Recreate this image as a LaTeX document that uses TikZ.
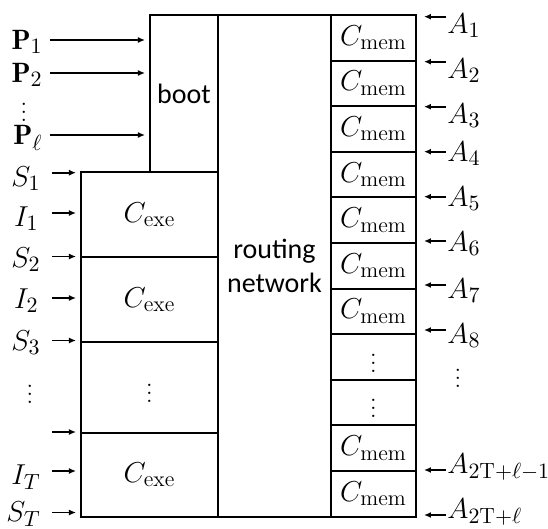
\documentclass[tikz,border=0pt]{standalone}
\usepackage{amsmath}
\usepackage{amssymb}
\usepackage{fontspec}
\setsansfont{Carlito}
\usepackage{tikz}
\usetikzlibrary{arrows.meta,shapes}
\DeclareMathSizes{14}{14}{11}{9}

\begin{document}
\begin{tikzpicture}
[x=0.5pt,y=-0.5pt]
\tikzset{
	box/.style = {draw, line width=1pt, anchor=north west, inner sep=0},
	word/.style = {font=\fontsize{14}{17}\sffamily\selectfont, align=center},
	sym/.style = {font=\fontsize{14}{16}\selectfont},
	dots/.style = {font=\fontsize{12}{14}\selectfont, inner sep=0},
	inleft/.style = {sym, anchor=east, inner sep=0},
	inright/.style = {sym, anchor=west, inner sep=0},
	arr/.style = {-{Latex[length=3.5pt,width=3pt]}, line width=0.85pt}
}

\useasboundingbox (0,0) rectangle (548,529);

\node (boot) [box, word, minimum width=34pt, minimum height=78.5pt] at (149,14) {boot};
\node (route) [box, word, minimum width=56.5pt, minimum height=251pt] at (217,14) {routing\\network};

\node (exe1) [box, sym, minimum width=68.5pt, minimum height=42.5pt] at (80,171) {$C_{\mathrm{exe}}$};
\node (exe2) [box, sym, minimum width=68.5pt, minimum height=42.5pt] at (80,256) {$C_{\mathrm{exe}}$};
\node (exe3) [box, dots, minimum width=68.5pt, minimum height=45.5pt] at (80,341) {$\vdots$};
\node (exe4) [box, sym, minimum width=68.5pt, minimum height=42pt] at (80,432) {$C_{\mathrm{exe}}$};

\node (mem1) [box, sym, minimum width=42.5pt, minimum height=22.8pt] at (330,14) {$C_{\mathrm{mem}}$};
\node (mem2) [box, sym, minimum width=42.5pt, minimum height=22.8pt] at (330,59.6) {$C_{\mathrm{mem}}$};
\node (mem3) [box, sym, minimum width=42.5pt, minimum height=22.8pt] at (330,105.2) {$C_{\mathrm{mem}}$};
\node (mem4) [box, sym, minimum width=42.5pt, minimum height=22.8pt] at (330,150.8) {$C_{\mathrm{mem}}$};
\node (mem5) [box, sym, minimum width=42.5pt, minimum height=22.8pt] at (330,196.4) {$C_{\mathrm{mem}}$};
\node (mem6) [box, sym, minimum width=42.5pt, minimum height=22.8pt] at (330,242) {$C_{\mathrm{mem}}$};
\node (mem7) [box, sym, minimum width=42.5pt, minimum height=22.8pt] at (330,287.6) {$C_{\mathrm{mem}}$};
\node (mem8) [box, dots, minimum width=42.5pt, minimum height=22.8pt] at (330,333.2) {$\vdots$};
\node (mem9) [box, dots, minimum width=42.5pt, minimum height=22.8pt] at (330,378.8) {$\vdots$};
\node (mem10) [box, sym, minimum width=42.5pt, minimum height=22.8pt] at (330,424.4) {$C_{\mathrm{mem}}$};
\node (mem11) [box, sym, minimum width=42.5pt, minimum height=22.8pt] at (330,470) {$C_{\mathrm{mem}}$};

\coordinate (tp1) at (50,40);
\coordinate (tp2) at (50,73);
\coordinate (tpl) at (50,135);
\coordinate (ts1) at (52,172.7);
\coordinate (ti1) at (52,213);
\coordinate (ts2) at (52,256.5);
\coordinate (ti2) at (52,298);
\coordinate (ts3) at (52,340.5);
\coordinate (tdots) at (52,432);
\coordinate (tiT) at (52,471);
\coordinate (tsT) at (52,512.5);

\node (p1) [inleft] at (43,42) {$\mathbf{P}_1$};
\node (p2) [inleft] at (43,75) {$\mathbf{P}_2$};
\node (pdots) [dots] at (24,106) {$\vdots$};
\node (pl) [inleft] at (43,138) {$\mathbf{P}_\ell$};
\node (s1) [inleft] at (41,179) {$S_1$};
\node (i1) [inleft] at (39,219) {$I_1$};
\node (s2) [inleft] at (41,260) {$S_2$};
\node (i2) [inleft] at (39,301) {$I_2$};
\node (s3) [inleft] at (41,343) {$S_3$};
\node (sdots) [dots] at (30,388) {$\vdots$};
\node (iT) [inleft] at (41,477) {$I_T$};
\node (sT) [inleft] at (41,514) {$S_T$};

\draw [arr, shorten >=2pt] (tp1) to (tp1 -| boot.west);
\draw [arr, shorten >=2pt] (tp2) to (tp2 -| boot.west);
\draw [arr, shorten >=2pt] (tpl) to (tpl -| boot.west);
\draw [arr, shorten >=2pt] (ts1) to (ts1 -| exe1.west);
\draw [arr, shorten >=2pt] (ti1) to (ti1 -| exe1.west);
\draw [arr, shorten >=2pt] (ts2) to (ts2 -| exe2.west);
\draw [arr, shorten >=2pt] (ti2) to (ti2 -| exe2.west);
\draw [arr, shorten >=2pt] (ts3) to (ts3 -| exe3.west);
\draw [arr, shorten >=2pt] (tdots) to (tdots -| exe4.west);
\draw [arr, shorten >=2pt] (tiT) to (tiT -| exe4.west);
\draw [arr, shorten >=2pt] (tsT) to (tsT -| exe4.west);

\coordinate (ta1) at (446,16.7);
\coordinate (ta2) at (446,61.7);
\coordinate (ta3) at (446,106.7);
\coordinate (ta4) at (446,151.7);
\coordinate (ta5) at (446,196.7);
\coordinate (ta6) at (446,241);
\coordinate (ta7) at (446,285);
\coordinate (ta8) at (446,330);
\coordinate (tan) at (446,470);
\coordinate (tam) at (446,515);

\node (a1) [inright] at (447,26) {$A_1$};
\node (a2) [inright] at (447,71) {$A_2$};
\node (a3) [inright] at (447,116) {$A_3$};
\node (a4) [inright] at (447,154) {$A_4$};
\node (a5) [inright] at (447,199) {$A_5$};
\node (a6) [inright] at (447,244) {$A_6$};
\node (a7) [inright] at (447,291) {$A_7$};
\node (a8) [inright] at (447,336) {$A_8$};
\node (adots) [dots] at (458,372) {$\vdots$};
\node (an) [inright] at (447,467) {$A_{2\mathrm{T}+\ell-1}$};
\node (am) [inright] at (447,512) {$A_{2\mathrm{T}+\ell}$};

\draw [arr, shorten >=3.5pt] (ta1) to (ta1 -| mem1.east);
\draw [arr, shorten >=3.5pt] (ta2) to (ta2 -| mem2.east);
\draw [arr, shorten >=3.5pt] (ta3) to (ta3 -| mem3.east);
\draw [arr, shorten >=3.5pt] (ta4) to (ta4 -| mem4.east);
\draw [arr, shorten >=3.5pt] (ta5) to (ta5 -| mem5.east);
\draw [arr, shorten >=3.5pt] (ta6) to (ta6 -| mem6.east);
\draw [arr, shorten >=3.5pt] (ta7) to (ta7 -| mem7.east);
\draw [arr, shorten >=3.5pt] (ta8) to (ta8 -| mem8.east);
\draw [arr, shorten >=3.5pt] (tan) to (tan -| mem11.east);
\draw [arr, shorten >=3.5pt] (tam) to (tam -| mem11.east);
\end{tikzpicture}
\end{document}
